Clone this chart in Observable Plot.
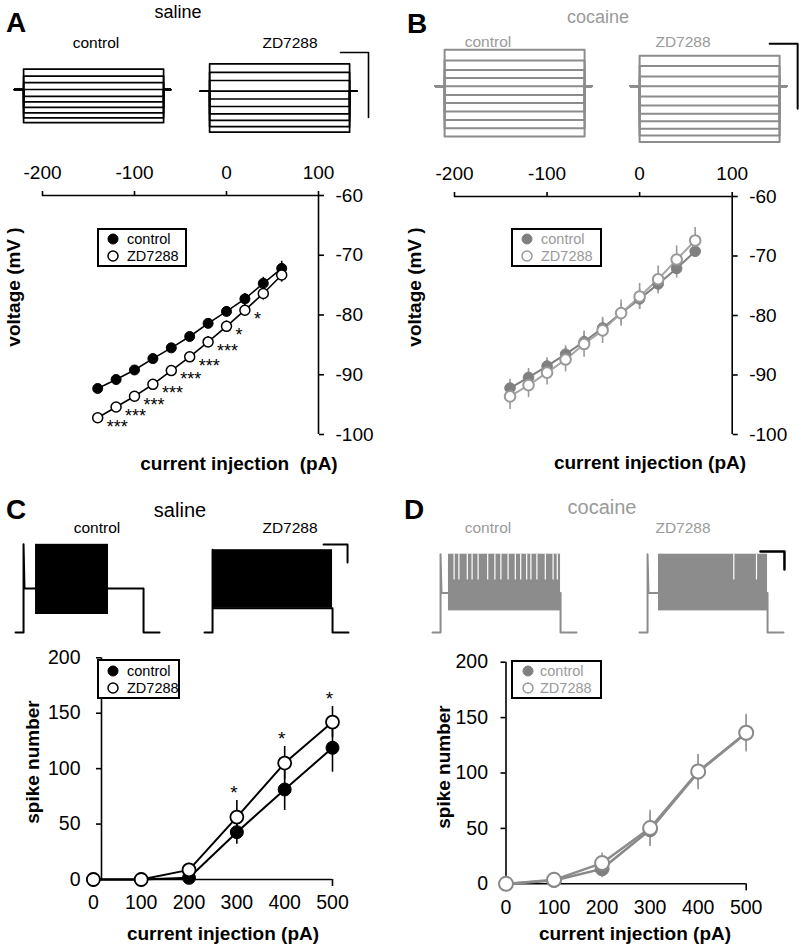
<!DOCTYPE html>
<html><head><meta charset="utf-8">
<script src="https://cdn.jsdelivr.net/npm/d3@7"></script>
<script src="https://cdn.jsdelivr.net/npm/@observablehq/plot@0.6"></script>
<style>
body{margin:0;background:#fff;}
#fig{position:relative;width:801px;height:952px;overflow:hidden;background:#fff;font-family:"Liberation Sans",Arial,Helvetica,sans-serif;}
</style></head><body><div id="fig"></div>
<script>
// ---------- DATA ----------
// I-V relations (panels A, B)
const ivCurrents = [-140,-120,-100,-80,-60,-40,-20,0,20,40,60];
const ivXTicks = [-200,-100,0,100];
const ivYTicks = [-60,-70,-80,-90,-100];
const ivSalineControl    = [-92.3,-90.8,-89.2,-87.3,-85.5,-83.6,-81.4,-79.4,-77.3,-74.7,-72.2];
const ivSalineControlErr = [0.6,0.6,0.6,0.6,0.7,0.7,0.8,0.8,0.9,1.0,1.2];
const ivSalineZD         = [-97.2,-95.4,-93.6,-91.6,-89.3,-87.0,-84.5,-81.9,-79.2,-76.4,-73.3];
const ivSalineZDErr      = [0.7,0.7,0.7,0.7,0.8,0.8,0.9,0.9,1.0,1.1,1.2];
const ivSalineStars      = ["***","***","***","***","***","***","***","*","*","",""];
const ivCocaineControl    = [-92.2,-90.4,-88.5,-86.5,-84.4,-82.1,-79.6,-77.2,-74.7,-72.1,-69.2];
const ivCocaineControlErr = [1.5,1.5,1.4,1.4,1.5,1.5,1.6,1.7,1.7,1.6,1.0];
const ivCocaineZD         = [-93.6,-91.7,-89.6,-87.4,-84.8,-82.5,-79.6,-76.8,-73.9,-70.6,-67.4];
const ivCocaineZDErr      = [2.2,2.1,2.1,2.1,2.2,2.2,2.2,2.2,2.2,2.3,2.2];

// spike number vs current (panels C, D)
const fiCurrents = [0,100,200,300,400,500];
const fiYTicks = [0,50,100,150,200];
const fiSalineControl    = [0,0,1.5,42.7,81.2,118.8];
const fiSalineControlErr = [0,0,1,11,19,22];
const fiSalineZD         = [0,0,8.7,56.3,105,142];
const fiSalineZDErr      = [0,0,6,15,15,14];
const fiSalineStars      = ["","","","*","*","*"];
const fiCocaineControl    = [0,3,13.5,48.7,100.8,136];
const fiCocaineControlErr = [0,1,8,15,16,17];
const fiCocaineZD         = [0,3.6,18.7,50.3,101.4,136.3];
const fiCocaineZDErr      = [0,1,9,16,15,16];

// example sweeps (panels A, B): step levels in mV, resting level, protocol times in ms
const sweepProtocol = [0,65,1065,1115];            // start, step on, step off, end
const sweepSalineControlRest = -79;
const sweepSalineControl = [-72.7,-74.9,-76.9,-79,-81.1,-82.8,-84.5,-86.2,-87.7,-89.2];
const sweepSalineZDRest = -82;
const sweepSalineZD = [-73.6,-76.2,-78.7,-82,-84.4,-86.7,-89,-91,-92.9,-94.6];
const sweepCocaineControlRest = -77;
const sweepCocaineControl = [-65.8,-69.1,-72,-74.5,-77,-79.7,-82.2,-84.8,-87.4,-89.9,-92.5];
const sweepCocaineZDRest = -77;
const sweepCocaineZD = [-67.6,-70.8,-74,-77,-80.2,-82.9,-85.5,-87.8,-90.1,-92.2,-94.2];

// example firing (panels C, D): [rest, plateau, spike peak, spike trough, firing start, firing end]
const firingProtocol = [0,67,1067,1200];
const firingSalineControl  = [-70,-21,28,-50,167,775];
const firingSalineZD       = [-70,-43,22,-43,67,1067];
const firingCocaineControl = [-70,-26,17,-46,133,1067];
const firingCocaineZD      = [-70,-26,17,-46,158,1067];
const firingCocaineControlGaps = [180,220,290,330,380,460,520,570,630,690,735,785,820,870,940,1005,1040];
const firingCocaineZDGaps = [786,975];
const scaleBarSweep = [200,20];   // ms, mV
const scaleBarFiring = [200,20];  // ms, mV

// ---------- HELPERS ----------
const FONT = '"Liberation Sans", Arial, Helvetica, sans-serif';
const baseStyle = {fontFamily: FONT, background: "transparent", overflow: "visible", maxWidth: "none", color: "black"};
const fig = document.getElementById("fig");
const GRAY_TXT = "#9a9a9a";

function put(el, left, top) {
  const w = document.createElement("div");
  w.style.cssText = `position:absolute;left:${left}px;top:${top}px;`;
  w.appendChild(el);
  fig.appendChild(w);
}
function label(text, cx, cy, {size = 16, weight = "normal", color = "#000", rotate = 0} = {}) {
  const d = document.createElement("div");
  d.textContent = text;
  d.style.cssText = `position:absolute;left:${cx}px;top:${cy}px;transform:translate(-50%,-50%) rotate(${rotate}deg);font-size:${size}px;font-weight:${weight};color:${color};white-space:pre;line-height:1;`;
  fig.appendChild(d);
}
function legend({left, top, width, height, markerX, textX, rows, r, size = 14.5}) {
  const box = document.createElement("div");
  box.style.cssText = `position:absolute;left:${left}px;top:${top}px;width:${width}px;height:${height}px;border:2px solid #000;box-sizing:border-box;background:#fff;`;
  fig.appendChild(box);
  for (const row of rows) {
    const s = document.createElementNS("http://www.w3.org/2000/svg", "svg");
    s.setAttribute("width", 2 * r + 4); s.setAttribute("height", 2 * r + 4);
    s.style.cssText = `position:absolute;left:${markerX - r - 2}px;top:${row.y - r - 2}px;`;
    s.innerHTML = `<circle cx="${r + 2}" cy="${r + 2}" r="${r}" fill="${row.fill}" stroke="${row.stroke}" stroke-width="${row.sw}"/>`;
    fig.appendChild(s);
    const t = document.createElement("div");
    t.textContent = row.label;
    t.style.cssText = `position:absolute;left:${textX}px;top:${row.y}px;transform:translateY(-50%);font-size:${size}px;color:${row.color};line-height:1;white-space:pre;`;
    fig.appendChild(t);
  }
}
function tracePlot({left, top, width, height, baseY, rest, pxPerMs, pxPerMv, marks}) {
  const p = Plot.plot({
    width, height, margin: 0,
    x: {domain: [0, width / pxPerMs], axis: null},
    y: {domain: [rest - (top + height - baseY) / pxPerMv, rest + (baseY - top) / pxPerMv], axis: null},
    style: baseStyle,
    marks
  });
  put(p, left, top);
}
function sweepLines(levels, rest) {
  const [t0, tOn, tOff, tEnd] = sweepProtocol;
  return levels.flatMap((v, k) => [
    {k, t: t0, v: rest}, {k, t: tOn, v: rest}, {k, t: tOn, v}, {k, t: tOff, v}, {k, t: tOff, v: rest}, {k, t: tEnd, v: rest}
  ]);
}
function firingLine(f) {
  const [t0, tOn, tOff, tEnd] = firingProtocol;
  const [rest, plateau, peak, trough, fs, fe] = f;
  return [
    {t: t0, v: rest}, {t: tOn, v: rest}, {t: tOn, v: peak}, {t: tOn + 8, v: plateau},
    {t: fs, v: plateau}, {t: fe, v: plateau}, {t: tOff, v: plateau}, {t: tOff, v: rest}, {t: tEnd, v: rest}
  ];
}
function scaleBar(t, v, [dt, dv], sw) {
  return Plot.line([{t: t - dt, v}, {t, v}, {t, v: v - dv}], {x: "t", y: "v", stroke: "black", strokeWidth: sw});
}
function firingMarks(f, color, gaps) {
  const [rest, plateau, peak, trough, fs, fe] = f;
  const marks = [
    Plot.line(firingLine(f), {x: "t", y: "v", stroke: color, strokeWidth: 2}),
    Plot.rect([{x1: fs, x2: fe, y1: trough, y2: peak}], {x1: "x1", x2: "x2", y1: "y1", y2: "y2", fill: color})
  ];
  if (gaps) marks.push(Plot.ruleX(gaps, {x: d => d, y1: peak, y2: (peak + 2 * plateau) / 3, stroke: "white", strokeWidth: 1.2}));
  return marks;
}

function ivChart(o) {
  const rows = ivCurrents.map((x, i) => ({x, c: o.ctrl[i], ce: o.ctrlErr[i], z: o.zd[i], ze: o.zdErr[i], s: o.stars ? o.stars[i] : ""}));
  const [xMin, xMax] = d3.extent(ivXTicks), [yMin, yMax] = d3.extent(ivYTicks);
  const p = Plot.plot({
    width: o.width, height: o.height, marginLeft: o.mL, marginRight: o.mR, marginTop: o.mT, marginBottom: o.mB,
    x: {domain: [xMin, xMax]}, y: {domain: [yMin, yMax]},
    style: baseStyle,
    marks: [
      Plot.ruleY([yMax], {x1: xMin, x2: xMax, stroke: "black", strokeWidth: 1.6}),
      Plot.ruleX([xMax], {y1: yMin, y2: yMax, stroke: "black", strokeWidth: 1.6}),
      Plot.axisX({anchor: "top", ticks: ivXTicks, tickSize: 5, tickPadding: 12, fontSize: 19, tickFormat: d => String(d), label: null, strokeWidth: 1.6}),
      Plot.axisY({anchor: "right", ticks: ivYTicks, tickSize: 5, tickPadding: 12, fontSize: 19, tickFormat: d => String(d), label: null, strokeWidth: 1.6}),
      Plot.ruleX(rows, {x: "x", y1: d => d.c - d.ce, y2: d => d.c + d.ce, stroke: o.errColor, strokeWidth: 1.6}),
      Plot.ruleX(rows, {x: "x", y1: d => d.z - d.ze, y2: d => d.z + d.ze, stroke: o.errColor, strokeWidth: 1.6}),
      Plot.line(rows, {x: "x", y: "c", stroke: o.ctrlLine, strokeWidth: o.lw}),
      Plot.line(rows, {x: "x", y: "z", stroke: o.zdLine, strokeWidth: o.lw}),
      Plot.dot(rows, {x: "x", y: "c", r: o.r, fill: o.ctrlFill, stroke: o.ctrlFill, strokeWidth: 1}),
      Plot.dot(rows, {x: "x", y: "z", r: o.r, fill: "white", stroke: o.zdStroke, strokeWidth: o.zdSW}),
      o.stars ? Plot.text(rows, {x: "x", y: "z", text: "s", textAnchor: "start", dx: 9, dy: 9, fontSize: 18}) : null
    ]
  });
  put(p, o.left, o.top);
}

function fiChart(o) {
  const rows = fiCurrents.map((x, i) => ({x, c: o.ctrl[i], ce: o.ctrlErr[i], z: o.zd[i], ze: o.zdErr[i], s: o.stars ? o.stars[i] : ""}));
  const xMax = d3.max(fiCurrents), [yMin, yMax] = d3.extent(fiYTicks);
  const p = Plot.plot({
    width: o.width, height: o.height, marginLeft: o.mL, marginRight: o.mR, marginTop: o.mT, marginBottom: o.mB,
    x: {domain: [o.cross, xMax]}, y: {domain: [yMin, yMax]},
    style: baseStyle,
    marks: [
      Plot.ruleX([o.cross], {y1: yMin, y2: yMax, stroke: "black", strokeWidth: 1.6}),
      Plot.ruleY([yMin], {x1: o.cross, x2: xMax, stroke: "black", strokeWidth: 1.6}),
      Plot.axisY({anchor: "left", ticks: fiYTicks, tickSize: 5, tickPadding: o.yPad, fontSize: 19.5, label: null, strokeWidth: 1.6}),
      Plot.axisX({anchor: "bottom", ticks: fiCurrents, tickSize: 0, tickPadding: 16, fontSize: 19.5, label: null}),
      Plot.axisX({anchor: "bottom", ticks: [xMax], tickSize: 7, tickFormat: () => "", label: null, strokeWidth: 1.6}),
      Plot.ruleX(rows, {x: "x", y1: d => d.c - d.ce, y2: d => d.c + d.ce, stroke: o.errColor, strokeWidth: 1.6}),
      Plot.ruleX(rows, {x: "x", y1: d => d.z - d.ze, y2: d => d.z + d.ze, stroke: o.errColor, strokeWidth: 1.6}),
      Plot.line(rows, {x: "x", y: "c", stroke: o.ctrlLine, strokeWidth: o.lw}),
      Plot.line(rows, {x: "x", y: "z", stroke: o.zdLine, strokeWidth: o.lw}),
      Plot.dot(rows, {x: "x", y: "c", r: o.r, fill: o.ctrlFill, stroke: o.ctrlFill, strokeWidth: 1}),
      Plot.dot(rows, {x: "x", y: "z", r: o.r, fill: "white", stroke: o.zdStroke, strokeWidth: o.zdSW}),
      o.stars ? Plot.text(rows, {x: "x", y: d => d.z + d.ze, text: "s", dx: -3, dy: -8, fontSize: 19}) : null
    ]
  });
  put(p, o.left, o.top);
}

// ---------- PANEL A / B TRACES ----------
const SW = {pxPerMs: 0.14, pxPerMv: 3.25};
tracePlot({left: 13.9, top: 30, width: 182, height: 110, baseY: 89, rest: sweepSalineControlRest, ...SW,
  marks: [Plot.line(sweepLines(sweepSalineControl, sweepSalineControlRest), {x: "t", y: "v", z: "k", stroke: "black", strokeWidth: 1.7})]});
tracePlot({left: 199.9, top: 30, width: 182, height: 110, baseY: 90.7, rest: sweepSalineZDRest, ...SW,
  marks: [Plot.line(sweepLines(sweepSalineZD, sweepSalineZDRest), {x: "t", y: "v", z: "k", stroke: "black", strokeWidth: 1.7}),
          scaleBar(1200, -70.1, scaleBarSweep, 1.6)]});
tracePlot({left: 434.9, top: 30, width: 182, height: 120, baseY: 85.7, rest: sweepCocaineControlRest, ...SW,
  marks: [Plot.line(sweepLines(sweepCocaineControl, sweepCocaineControlRest), {x: "t", y: "v", z: "k", stroke: "#8c8c8c", strokeWidth: 2})]});
tracePlot({left: 629.9, top: 30, width: 182, height: 120, baseY: 85.7, rest: sweepCocaineZDRest, ...SW,
  marks: [Plot.line(sweepLines(sweepCocaineZD, sweepCocaineZDRest), {x: "t", y: "v", z: "k", stroke: "#8c8c8c", strokeWidth: 2}),
          scaleBar(1194, -63.9, scaleBarSweep, 2)]});

// ---------- PANEL C / D TRACES ----------
const FR = {pxPerMs: 0.12, pxPerMv: 0.9};
tracePlot({left: 15, top: 530, width: 156, height: 115, baseY: 632, rest: -70, ...FR, marks: firingMarks(firingSalineControl, "black")});
tracePlot({left: 204, top: 530, width: 156, height: 115, baseY: 632, rest: -70, ...FR,
  marks: [...firingMarks(firingSalineZD, "black"), scaleBar(1192, 27.8, scaleBarFiring, 2)]});
tracePlot({left: 432, top: 530, width: 156, height: 115, baseY: 632, rest: -70, ...FR, marks: firingMarks(firingCocaineControl, "#8c8c8c", firingCocaineControlGaps)});
tracePlot({left: 639, top: 530, width: 156, height: 115, baseY: 632, rest: -70, ...FR,
  marks: [...firingMarks(firingCocaineZD, "#8c8c8c", firingCocaineZDGaps), scaleBar(1208, 20, scaleBarFiring, 2.5)]});

// ---------- PANEL A / B I-V ----------
ivChart({left: 0, top: 150, width: 380, height: 300, mL: 42, mR: 62, mT: 45, mB: 16,
  ctrl: ivSalineControl, ctrlErr: ivSalineControlErr, zd: ivSalineZD, zdErr: ivSalineZDErr, stars: ivSalineStars,
  errColor: "black", ctrlLine: "black", zdLine: "black", lw: 1.6, ctrlFill: "black", zdStroke: "black", zdSW: 1.5, r: 5});
ivChart({left: 400, top: 150, width: 395, height: 300, mL: 54, mR: 63.3, mT: 46, mB: 16,
  ctrl: ivCocaineControl, ctrlErr: ivCocaineControlErr, zd: ivCocaineZD, zdErr: ivCocaineZDErr, stars: null,
  errColor: "#9a9a9a", ctrlLine: "#808080", zdLine: "#a6a6a6", lw: 2, ctrlFill: "#808080", zdStroke: "#999", zdSW: 2, r: 5.3});

// ---------- PANEL C / D F-I ----------
fiChart({left: 0, top: 640, width: 380, height: 300, mL: 101, mR: 48, mT: 17.3, mB: 61, cross: 17, yPad: 16,
  ctrl: fiSalineControl, ctrlErr: fiSalineControlErr, zd: fiSalineZD, zdErr: fiSalineZDErr, stars: fiSalineStars,
  errColor: "black", ctrlLine: "black", zdLine: "black", lw: 2, ctrlFill: "black", zdStroke: "black", zdSW: 1.8, r: 6.5});
fiChart({left: 400, top: 640, width: 394, height: 300, mL: 105.5, mR: 48.3, mT: 21.7, mB: 56.7, cross: 0, yPad: 13,
  ctrl: fiCocaineControl, ctrlErr: fiCocaineControlErr, zd: fiCocaineZD, zdErr: fiCocaineZDErr, stars: null,
  errColor: "#999", ctrlLine: "#888", zdLine: "#8c8c8c", lw: 2.5, ctrlFill: "#7f7f7f", zdStroke: "#8a8a8a", zdSW: 2, r: 7});

// ---------- LEGENDS ----------
legend({left: 97, top: 228, width: 90, height: 39, markerX: 113, textX: 127, r: 5, rows: [
  {y: 238.5, label: "control", fill: "black", stroke: "black", sw: 1, color: "black"},
  {y: 255.5, label: "ZD7288", fill: "white", stroke: "black", sw: 1.5, color: "black"}]});
legend({left: 511, top: 228, width: 91, height: 39, markerX: 527, textX: 541, r: 5, rows: [
  {y: 238.5, label: "control", fill: "#808080", stroke: "#808080", sw: 1, color: GRAY_TXT},
  {y: 255.5, label: "ZD7288", fill: "white", stroke: "#999", sw: 1.5, color: GRAY_TXT}]});
legend({left: 97, top: 659, width: 83, height: 40, markerX: 113, textX: 127, r: 5, rows: [
  {y: 670.5, label: "control", fill: "black", stroke: "black", sw: 1, color: "black"},
  {y: 688, label: "ZD7288", fill: "white", stroke: "black", sw: 1.5, color: "black"}]});
legend({left: 511, top: 660, width: 91, height: 39, markerX: 528, textX: 540, r: 5, rows: [
  {y: 670.5, label: "control", fill: "#808080", stroke: "#808080", sw: 1, color: GRAY_TXT},
  {y: 688, label: "ZD7288", fill: "white", stroke: "#999", sw: 1.5, color: GRAY_TXT}]});

// ---------- TEXT ----------
label("A", 16, 23, {size: 28, weight: "bold"});
label("B", 417, 24, {size: 28, weight: "bold"});
label("C", 16, 510, {size: 28, weight: "bold"});
label("D", 414, 510, {size: 28, weight: "bold"});
label("saline", 178, 12, {size: 18});
label("cocaine", 598, 17, {size: 18, color: GRAY_TXT});
label("control", 96, 43, {size: 15.5});
label("ZD7288", 290, 43, {size: 15.5});
label("control", 488, 42, {size: 15.5, color: GRAY_TXT});
label("ZD7288", 683, 42, {size: 15.5, color: GRAY_TXT});
label("saline", 180, 510, {size: 20});
label("cocaine", 602, 507, {size: 20, color: GRAY_TXT});
label("control", 97, 528, {size: 15.5});
label("ZD7288", 290, 528, {size: 15.5});
label("control", 488, 528, {size: 15.5, color: GRAY_TXT});
label("ZD7288", 683, 528, {size: 15.5, color: GRAY_TXT});
label("current injection  (pA)", 239, 463, {size: 19, weight: "bold"});
label("current injection (pA)", 650, 462, {size: 19, weight: "bold"});
label("voltage (mV )", 13, 287, {size: 19, weight: "bold", rotate: -90});
label("voltage (mV )", 414, 287, {size: 19, weight: "bold", rotate: -90});
label("current injection (pA)", 223, 933, {size: 19, weight: "bold"});
label("current injection (pA)", 635, 933, {size: 19, weight: "bold"});
label("spike number", 32, 762, {size: 19, weight: "bold", rotate: -90});
label("spike number", 443, 767, {size: 19, weight: "bold", rotate: -90});
</script></body></html>
